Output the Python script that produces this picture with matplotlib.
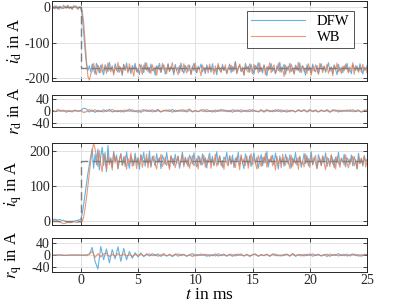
import numpy as np
import matplotlib
matplotlib.use("Agg")
import matplotlib.pyplot as plt

plt.rcParams["font.family"] = ["Liberation Serif", "DejaVu Serif"]
plt.rcParams["mathtext.fontset"] = "stix"
plt.rcParams["axes.unicode_minus"] = False

# currents sampled every 0.125 ms, residuals every 0.25 ms
t_cur = np.arange(221) * 0.125 - 2.5
t_res = np.arange(111) * 0.25 - 2.5

t_ref = [-2.5, 0, 0, 25]
id_ref = [0, 0, -170, -170]
iq_ref = [0, 0, 170, 170]

id_dfw = [2, -3, 4, -1, -5, 3, 0, -4, 6, -2, 1, 5, -3, 2, -6, 4, -1, 3, -4, 0,
          1, -20, -70, -120, -160, -178,
          -165, -182, -160, -175, -188, -158, -172, -185, -163, -177,
          -190, -162, -170, -181, -155, -176, -168, -186, -159, -174,
          -183, -166, -171, -192, -161, -178, -157, -180, -169, -187,
          -164, -175, -158, -182, -173, -189, -162, -170, -184, -156,
          -177, -168, -185, -160, -179, -172, -191, -165, -174, -158,
          -183, -170, -162, -188, -176, -159, -181, -167, -173, -190,
          -161, -178, -169, -184, -157, -175, -186, -164, -171, -180,
          -163, -189, -172, -158, -177, -185, -166, -174, -160, -182,
          -170, -187, -162, -176, -168, -183, -159, -179, -173, -190,
          -164, -175, -181, -161, -178, -169, -186,
          -172, -160, -184, -167, -179, -153, -186, -170, -163, -181,
          -175, -190, -158, -173, -166, -183, -161, -177, -188, -164,
          -171, -156, -182, -169, -185, -162, -176, -193, -167, -174,
          -159, -180, -172, -187, -165, -178, -155, -183, -170, -161,
          -189, -168, -176, -158, -181, -173, -186, -163, -170, -179,
          -157, -184, -166, -175, -191, -162, -178, -169, -185, -160,
          -174, -182, -164, -188, -171, -159, -177, -167, -183, -172,
          -156, -180, -168, -186, -163, -175, -190, -161, -179, -170,
          -184, -165, -173, -158, -181, -176, -187, -162, -171, -178,
          -166, -183, -159, -174, -188, -169, -177, -164]
id_wb = [-3, 1, -5, 4, -2, -6, 2, -1, -4, 3, -2, 5, -3, 0, -5, 2, 4, -2, -6, 1,
         -2, -8, -40, -95, -150, -195, -205, -188,
         -180, -158, -176, -190, -163, -171, -184, -160, -179, -168,
         -186, -157, -174, -182, -165, -191, -169, -178, -155, -183,
         -172, -188, -161, -176, -167, -185, -159, -180, -173, -194,
         -166, -177, -184, -160, -171, -189, -163, -175, -157, -181,
         -170, -186, -162, -179, -168, -192, -165, -174, -183, -158,
         -176, -169, -187, -161, -180, -172, -156, -184, -167, -178,
         -190, -164, -173, -181, -159, -175, -185, -162, -170, -188,
         -166, -179, -157, -183, -171, -176, -193, -163, -174, -180,
         -168, -185, -160, -177, -172, -189, -165, -181, -158, -175,
         -184, -167, -178, -162, -187, -170, -176,
         -163, -181, -170, -154, -186, -174, -160, -179, -168, -192,
         -165, -177, -183, -159, -172, -188, -161, -175, -169, -185,
         -157, -180, -173, -164, -190, -167, -178, -156, -184, -171,
         -162, -187, -176, -158, -182, -169, -174, -195, -163, -179,
         -166, -185, -160, -173, -189, -168, -177, -155, -183, -170,
         -164, -181, -172, -186, -159, -176, -191, -167, -180, -162,
         -175, -188, -158, -171, -184, -165, -178, -161, -186, -173,
         -169, -193, -163, -176, -157, -182, -170, -187, -166, -179,
         -160, -174, -185, -168, -177, -156, -189, -164, -172, -181,
         -167, -183, -161, -178, -170, -186]

iq_dfw = [3, 4, 5, 3, 2, 4, 3, 1, 2, -1, -2, -4, -5, -4, -3, -1, 0, 1, 2, 3,
          4, 20, 45, 75, 105, 135, 160, 185, 205,
          150, 190, 160, 205, 145, 185, 210, 158, 195, 140,
          215, 165, 180, 152, 198, 170, 188, 148, 176, 192,
          160, 183, 155, 197, 168, 150, 186, 174, 158, 193,
          165, 181, 147, 189, 172, 196, 156, 178, 163, 199,
          153, 184, 170, 157, 192, 166, 180, 149, 187, 175,
          161, 195, 168, 152, 183, 177, 158, 190, 164, 185,
          150, 173, 196, 160, 182, 169, 155, 188, 176, 162,
          194, 167, 154, 186, 173, 159, 191, 165, 180, 151,
          178, 193, 163, 184, 157, 171, 197, 160, 186, 168,
          153, 182, 175, 195, 159, 185,
          164, 188, 152, 179, 170, 196, 158, 184, 167, 149,
          191, 173, 160, 186, 155, 177, 194, 163, 181, 150,
          172, 189, 157, 183, 166, 198, 154, 176, 169, 187,
          161, 193, 171, 148, 185, 165, 179, 156, 190, 174,
          162, 188, 151, 180, 168, 195, 159, 177, 183, 153,
          170, 192, 163, 186, 157, 175, 197, 160, 181, 166,
          149, 189, 173, 158, 184, 167, 194, 155, 178, 162,
          187, 171, 152, 182, 165, 196, 159, 176, 168, 190,
          154, 180, 173, 161, 188, 157, 183, 170, 148, 193,
          164, 179, 156, 185, 169, 176]
iq_wb = [-2, 0, 3, 2, -1, -3, -4, -6, -8, -7, -6, -4, -3, -5, -4, -2, -3, -5, -4, -2,
         -4, -2, 10, 35, 65, 100, 135, 170, 200, 222, 205,
         185, 155, 200, 162, 140, 192, 170, 148, 188, 160,
         176, 145, 195, 165, 182, 150, 172, 190, 158, 168,
         185, 147, 178, 162, 194, 155, 170, 183, 149, 176,
         160, 188, 153, 172, 166, 191, 151, 180, 157, 174,
         186, 161, 148, 177, 169, 190, 155, 165, 182, 158,
         173, 146, 187, 163, 178, 152, 170, 184, 159, 167,
         189, 154, 176, 162, 181, 150, 171, 186, 157, 165,
         178, 148, 183, 168, 160, 188, 153, 174, 166, 181,
         150, 177, 162, 190, 156, 169, 184, 158, 172, 147,
         180, 165, 157, 186, 161, 175,
         168, 152, 183, 171, 146, 189, 163, 177, 158, 185,
         150, 174, 192, 160, 179, 166, 148, 187, 172, 155,
         181, 164, 193, 153, 176, 169, 186, 157, 173, 145,
         184, 162, 178, 151, 190, 167, 159, 182, 170, 149,
         188, 156, 175, 163, 180, 147, 185, 161, 171, 154,
         191, 166, 178, 152, 183, 160, 173, 187, 150, 169,
         179, 158, 186, 164, 146, 182, 171, 155, 189, 162,
         176, 148, 184, 167, 153, 180, 172, 159, 188, 165,
         151, 177, 169, 185, 157, 174, 149, 183, 163, 178,
         160, 186, 154, 171]

rd_dfw = [1, -2, 0, 2, -1, 1, -2, 0, 1, -1,
          0, 9, 6, -4,
          3, -5, 2, -3, 4, -2, 5, -4, 1, -3,
          2, -4, 3, -1, 4, -3, 2, -5, 1, 3,
          -2, 4, -3, 2, -4, 1, 3, -2, 5, -3,
          2, -1, 4, -4, 3, -2, 1, -3, 2, 4,
          -3, 1, -4, 3, -2, 5, -1, 2, -3, 4,
          -2, 3, -4, 1, 2, -3, 4, -1, -2, 3,
          -4, 2, 1, -3, 4, -2, 3, -1, -4, 2,
          1, -3, 3, -2, 4, -4, 2, -1, 3, -3,
          2, -2, 4, -3, 1, 3, -4, 2, -1, 3,
          -2, 4, -3, 1, -4, 2, 3]
rd_wb = [4, -3, 5, -2, 3, -5, 2, -4, 3, -1,
         2, -6, -3, 5,
         -2, 4, -3, 1, -4, 3, -1, 5, -3, 2,
         -4, 3, -2, 6, -3, 1, -5, 2, 4, -2,
         3, -4, 1, 5, -3, 2, -1, 4, -5, 3,
         -2, 4, -3, 2, 6, -4, 1, -2, 3, -3,
         5, -2, 2, -4, 3, -1, 4, -3, 2, -5,
         3, -2, 4, -1, -3, 5, -2, 1, -4, 3,
         -1, 4, -3, 2, -2, 5, -4, 1, 3, -3,
         2, -4, 4, -1, 3, -2, 5, -3, 1, -4,
         3, -2, 2, -5, 4, -1, 3, -3, 2, -2,
         4, -3, 1, 3, -4, 2, -1]

rq_dfw = [0, 0, 1, 0, -1, 0, 0, 1, 0, 0, 0,
          0, 1, 3, 25, -20, -45, 28, -15, 20, -25, 18, -12, 27,
          -20, 22, -15, 12, -10, 8, -6, 7, -5, 4,
          -3, 5, -2, 4, -4, 2, -3, 3, -5, 2,
          4, -2, 3, -4, 1, 5, -3, 2, -1, 3,
          -4, 2, -2, 4, -3, 1, 3, -2, 2, -4,
          3, -1, 4, -3, 2, -2, 1, 3, -4, 2,
          -1, 3, -3, 4, -2, 1, -3, 2, 3, -2,
          4, -4, 1, 2, -3, 3, -1, 4, -2, 2,
          -3, 1, 3, -4, 2, -1, 5, -2, 3, -3,
          1, 4, -2, 2, -4, 3, 1]
rq_wb = [0, 0, 0, 1, 0, -1, 0, 0, 0, 1, 0,
         0, -2, 3, 12, -8, 5, -6, 4, 6, -5,
         3, -4, 5, -2, 4, -3, 2, -5, 3, -1,
         4, -3, 2, 4, -2, 3, -4, 1, 5, -3,
         2, -2, 4, -4, 3, 1, -3, 2, -5, 3,
         -2, 4, -1, 3, -4, 2, -3, 5, -2, 1,
         -4, 3, 2, -3, 4, -1, -2, 3, -5, 2,
         4, -3, 1, -2, 3, -4, 2, 4, -3, 1,
         -2, 3, -4, 5, -1, 2, -3, 3, -2, 4,
         -4, 1, 3, -2, 2, -5, 4, -1, 3, -3,
         2, -2, 4, -3, 1, 3, -4, 2, -1, 3]

lens = [len(a) for a in (id_dfw, id_wb, iq_dfw, iq_wb, rd_dfw, rd_wb, rq_dfw, rq_wb)]
if lens[:4] != [221] * 4 or lens[4:] != [111] * 4:
    raise SystemExit(f"bad lengths {lens}")

c_dfw = "#3f9fdc"
c_wb = "#e8764a"
c_ref = "#7f7f7f"

fig = plt.figure(figsize=(4.07, 3.05), dpi=100)
left, width = 0.128, 0.774
ax1 = fig.add_axes([left, 0.734, width, 0.262])
ax2 = fig.add_axes([left, 0.584, width, 0.105])
ax3 = fig.add_axes([left, 0.262, width, 0.269])
ax4 = fig.add_axes([left, 0.108, width, 0.111])

panels = [
    (ax1, t_cur, id_dfw, id_wb, id_ref, (-208, 17), [-200, -100, 0], r"$i_\mathrm{d}$ in A"),
    (ax2, t_res, rd_dfw, rd_wb, None, (-53, 53), [-40, 0, 40], r"$r_\mathrm{d}$ in A"),
    (ax3, t_cur, iq_dfw, iq_wb, iq_ref, (-12, 222), [0, 100, 200], r"$i_\mathrm{q}$ in A"),
    (ax4, t_res, rq_dfw, rq_wb, None, (-55, 55), [-40, 0, 40], r"$r_\mathrm{q}$ in A"),
]

for ax, tt, y_dfw, y_wb, y_ref, ylim, yt, lab in panels:
    ax.plot(tt, y_dfw, color=c_dfw, lw=0.8, alpha=0.8, label="DFW")
    ax.plot(tt, y_wb, color=c_wb, lw=0.8, alpha=0.75, label="WB")
    if y_ref is not None:
        ax.plot(t_ref, y_ref, color=c_ref, lw=1.0, ls=(0, (6, 3)))
    ax.set_xlim(-2.5, 25)
    ax.set_ylim(*ylim)
    ax.set_yticks(yt)
    ax.set_xticks([0, 5, 10, 15, 20, 25])
    ax.grid(True, color="#dddddd", lw=0.6)
    ax.set_axisbelow(True)
    ax.tick_params(direction="in", length=3, width=0.6, top=True, right=True,
                   labelsize=10, colors="#262626", pad=1.5)
    for s in ax.spines.values():
        s.set_color("#262626")
        s.set_linewidth(0.7)
    ax.set_ylabel(lab, fontsize=12, labelpad=0)
    ax.yaxis.set_label_coords(-0.088, 0.5)
    if ax is not ax4:
        ax.set_xticklabels([])

ax4.set_xlabel(r"$t$ in ms", fontsize=12.5, labelpad=0)

leg = ax1.legend(loc="upper right", fontsize=10.5, frameon=True, fancybox=False,
                 edgecolor="#262626", handlelength=3.7, borderpad=0.3,
                 labelspacing=0.15, bbox_to_anchor=(0.98, 0.97))
leg.get_frame().set_linewidth(0.7)

fig.savefig("out.png", dpi=100)
